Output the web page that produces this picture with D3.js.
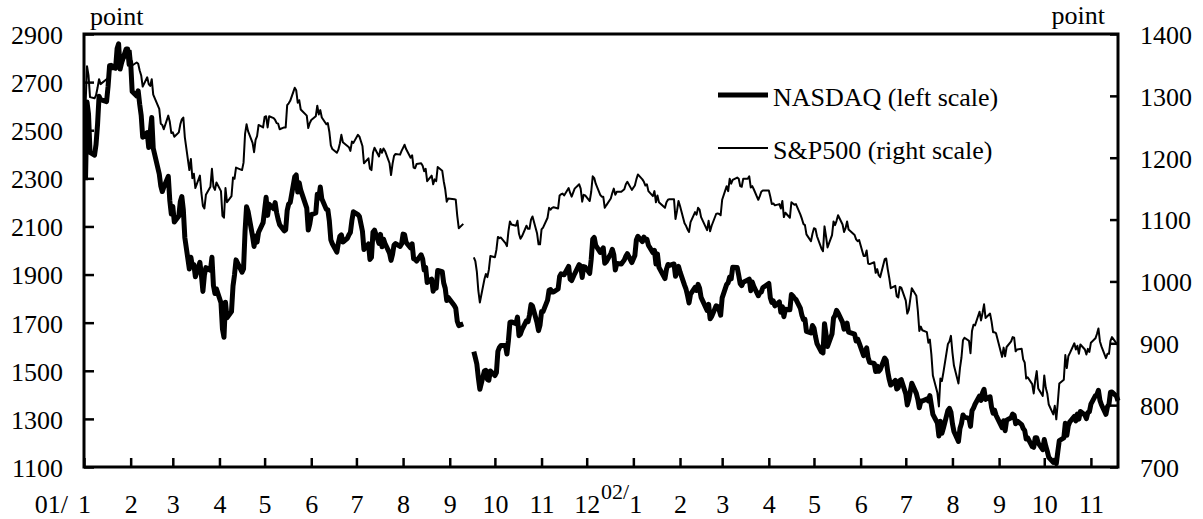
<!DOCTYPE html>
<html><head><meta charset="utf-8">
<script src="https://cdn.jsdelivr.net/npm/d3@7"></script>
<style>
body{margin:0;background:#fff}
svg{display:block}
text{font-family:"Liberation Serif","Times New Roman",Times,serif;font-size:26px;fill:#000}
</style>
</head><body>
<svg id="chart" width="1203" height="519"></svg>
<script>
// ---- trading days (per month) ----
const days2001 = [
  [2,3,4,5,8,9,10,11,12,16,17,18,19,22,23,24,25,26,29,30,31],
  [1,2,5,6,7,8,9,12,13,14,15,16,20,21,22,23,26,27,28],
  [1,2,5,6,7,8,9,12,13,14,15,16,19,20,21,22,23,26,27,28,29,30],
  [2,3,4,5,6,9,10,11,12,16,17,18,19,20,23,24,25,26,27,30],
  [1,2,3,4,7,8,9,10,11,14,15,16,17,18,21,22,23,24,25,29,30,31],
  [1,4,5,6,7,8,11,12,13,14,15,18,19,20,21,22,25,26,27,28,29],
  [2,3,5,6,9,10,11,12,13,16,17,18,19,20,23,24,25,26,27,30,31],
  [1,2,3,6,7,8,9,10,13,14,15,16,17,20,21,22,23,24,27,28,29,30,31],
  [4,5,6,7,10,11,12,13,14,17,18,19,20,21,24,25,26,27,28],
  [1,2,3,4,5,8,9,10,11,12,15,16,17,18,19,22,23,24,25,26,29,30,31],
  [1,2,5,6,7,8,9,12,13,14,15,16,19,20,21,23,26,27,28,29,30],
  [3,4,5,6,7,10,11,12,13,14,17,18,19,20,21,24,26,27,28,31]
];
const days2002 = [
  [2,3,4,7,8,9,10,11,14,15,16,17,18,22,23,24,25,28,29,30,31],
  [1,4,5,6,7,8,11,12,13,14,15,19,20,21,22,25,26,27,28],
  [1,4,5,6,7,8,11,12,13,14,15,18,19,20,21,22,25,26,27,28],
  [1,2,3,4,5,8,9,10,11,12,15,16,17,18,19,22,23,24,25,26,29,30],
  [1,2,3,6,7,8,9,10,13,14,15,16,17,20,21,22,23,24,28,29,30,31],
  [3,4,5,6,7,10,11,12,13,14,17,18,19,20,21,24,25,26,27,28],
  [1,2,3,5,8,9,10,11,12,15,16,17,18,19,22,23,24,25,26,29,30,31],
  [1,2,5,6,7,8,9,12,13,14,15,16,19,20,21,22,23,26,27,28,29,30],
  [3,4,5,6,9,10,11,12,13,16,17,18,19,20,23,24,25,26,27,30],
  [1,2,3,4,7,8,9,10,11,14,15,16,17,18,21,22,23,24,25,28,29,30,31],
  [1,4,5,6,7,8,11,12,13,14,15,18,19]
];

// ---- NASDAQ composite (left scale) ----
const nasdaq2001 = [
  2292,2617,2567,2408,2396,2441,2524,2641,2627,2619,2683,2768,2770,2758,2840,2859,2754,2781,2838,2838,2773,
  2783,2661,2643,2664,2608,2562,2471,2490,2428,2491,2553,2425,2318,2269,2245,2263,2308,2208,2152,
  2183,2118,2143,2204,2224,2169,2053,1923,1972,1934,1941,1891,1951,1898,1830,1898,1929,1918,1972,1854,1821,1840,
  1783,1673,1639,1785,1720,1746,1852,1899,1961,1910,1923,2079,2182,2163,2059,2017,2060,2035,2076,2116,
  2168,2221,2146,2192,2174,2199,2157,2129,2107,2082,2086,2166,2194,2199,2306,2314,2243,2282,2251,2176,2085,2110,
  2149,2156,2234,2218,2264,2215,2171,2170,2123,2044,2028,1993,2031,2059,2065,2035,2051,2065,2075,2125,2161,
  2149,2141,2080,2004,2027,1963,1972,2076,2085,2029,2067,2016,2047,2029,1989,1959,1984,2023,2029,2017,2027,
  2068,2066,2034,2011,2028,1966,1963,1956,1982,1965,1919,1930,1867,1881,1831,1860,1843,1917,1912,1865,1843,1792,1805,
  1771,1760,1706,1688,1695,null,null,null,null,1580,1555,1528,1471,1423,1499,1502,1464,1461,1499,
  1480,1492,1581,1597,1605,1605,1570,1626,1701,1703,1696,1723,1646,1653,1671,1708,1704,1732,1775,1769,1700,1667,1690,
  1746,1746,1794,1835,1838,1828,1828,1840,1892,1903,1901,1899,1934,1881,1875,1903,1941,1936,1888,1933,1931,
  1905,1964,2047,2054,2021,1992,2002,2011,1947,1953,1987,2005,1983,1919,1946,1944,1961,1976,1987,1950
];
const nasdaq2002 = [
  1979,2044,2059,2037,2056,2045,2047,2022,1991,2001,1944,1986,1930,1883,1922,1942,1938,1944,1893,1913,1934,
  1911,1856,1839,1813,1782,1819,1847,1834,1859,1843,1805,1751,1776,1716,1725,1770,1767,1752,1731,
  1803,1859,1866,1890,1882,1930,1929,1897,1862,1854,1868,1877,1881,1833,1869,1851,1812,1824,1827,1845,
  1863,1804,1784,1790,1770,1786,1743,1767,1725,1756,1754,1817,1811,1802,1797,1759,1730,1713,1714,1664,1657,1688,
  1678,1643,1613,1578,1574,1696,1652,1601,1653,1719,1730,1751,1741,1701,1673,1676,1698,1661,1652,1624,1632,1616,
  1563,1578,1595,1554,1535,1531,1497,1519,1498,1505,1553,1543,1497,1464,1441,1460,1424,1429,1459,1463,
  1404,1358,1380,1448,1406,1381,1346,1374,1374,1383,1375,1397,1357,1319,1283,1229,1290,1240,1262,1335,1344,1328,
  1280,1248,1206,1260,1281,1316,1307,1302,1269,1334,1345,1361,1395,1377,1409,1423,1381,1392,1348,1324,1336,1315,
  1264,1292,1251,1295,1305,1320,1315,1280,1291,1276,1260,1252,1216,1221,1185,1182,1222,1222,1199,1172,
  1214,1187,1166,1140,1119,1129,1114,1163,1210,1221,1282,1232,1272,1288,1310,1292,1320,1299,1331,1316,1301,1327,1330,
  1361,1397,1401,1419,1377,1359,1319,1350,1361,1411,1412,1394,1375
];

// ---- S&P 500 (right scale) ----
const sp2001 = [
  1283,1348,1333,1298,1296,1301,1313,1327,1319,1327,1329,1348,1343,1343,1360,1364,1358,1355,1364,1374,1366,
  1373,1349,1354,1352,1341,1333,1315,1330,1319,1316,1327,1302,1279,1255,1253,1246,1268,1258,1240,
  1241,1234,1241,1254,1262,1265,1233,1180,1198,1167,1174,1151,1171,1143,1122,1118,1140,1153,1182,1153,1148,1160,
  1146,1106,1103,1151,1128,1138,1168,1166,1184,1180,1192,1238,1254,1243,1224,1209,1229,1235,1253,1249,
  1266,1267,1249,1267,1264,1261,1256,1255,1246,1249,1249,1285,1288,1292,1313,1309,1289,1293,1278,1268,1248,1256,
  1261,1267,1284,1270,1277,1265,1254,1256,1242,1220,1214,1208,1213,1223,1237,1225,1219,1217,1211,1226,1224,
  1237,1234,1219,1191,1199,1182,1180,1208,1216,1202,1214,1208,1215,1211,1191,1172,1190,1203,1206,1205,1211,
  1216,1221,1214,1200,1204,1184,1183,1190,1191,1187,1178,1182,1162,1171,1157,1165,1162,1185,1179,1162,1149,1129,1134,
  1133,1132,1106,1086,1093,null,null,null,null,1039,1033,1016,985,966,1003,1012,1007,1019,1041,
  1039,1051,1072,1070,1071,1062,1057,1081,1097,1092,1090,1098,1077,1069,1073,1090,1085,1085,1100,1105,1078,1060,1060,
  1084,1087,1103,1119,1116,1119,1120,1118,1139,1141,1142,1139,1151,1143,1137,1150,1157,1150,1129,1140,1139,
  1130,1145,1170,1167,1158,1140,1137,1137,1119,1123,1134,1143,1150,1140,1145,1145,1149,1157,1161,1148
];
const sp2002 = [
  1155,1165,1173,1165,1161,1155,1157,1146,1138,1146,1128,1139,1128,1119,1128,1132,1133,1133,1101,1114,1130,
  1122,1094,1090,1084,1080,1096,1112,1108,1119,1116,1104,1083,1098,1081,1090,1109,1110,1109,1107,
  1132,1154,1146,1166,1158,1164,1168,1166,1154,1153,1166,1166,1170,1152,1154,1149,1132,1138,1145,1147,
  1147,1137,1125,1126,1123,1125,1118,1130,1104,1111,1103,1128,1126,1124,1125,1108,1101,1093,1091,1076,1065,1077,
  1086,1085,1073,1053,1049,1089,1073,1055,1075,1097,1091,1098,1107,1092,1080,1086,1097,1084,1075,1068,1065,1067,
  1041,1041,1050,1029,1028,1031,1014,1020,1010,1007,1036,1037,1020,1006,989,993,976,974,991,990,
  969,948,954,989,977,953,920,927,921,918,901,906,882,848,820,798,843,839,853,899,903,912,
  885,864,835,860,877,905,909,904,884,920,930,929,951,937,949,963,941,948,935,918,918,916,
  878,893,879,894,903,910,909,887,890,891,874,869,843,845,834,819,840,855,827,815,
  848,828,819,801,785,799,777,804,835,841,881,860,879,884,900,890,896,883,898,890,882,891,886,
  901,908,915,924,903,895,876,883,883,904,910,900,897
];

// ---- axes / labels ----
const leftTicks = [1100,1300,1500,1700,1900,2100,2300,2500,2700,2900];
const rightTicks = [700,800,900,1000,1100,1200,1300,1400];
const leftDomain = [1100, 2900];
const rightDomain = [700, 1400];
const xStart = "2001-01-01", xEnd = "2002-11-19";
const yearLabels = ["01/", "02/"];
const unitLabel = "point";
const seriesNames = ["NASDAQ (left scale)", "S&P500 (right scale)"];

function build(year, days, nq, sp, out) {
  let i = 0;
  days.forEach((m, mi) => m.forEach(d => {
    out.push({date: new Date(Date.UTC(year, mi, d)), nq: nq[i], sp: sp[i]});
    i++;
  }));
  return out;
}
const data = [];
build(2001, days2001, nasdaq2001, sp2001, data);
build(2002, days2002, nasdaq2002, sp2002, data);

const L = 84, R = 1118, T = 34, B = 467;
const svg = d3.select("#chart");

const x = d3.scaleUtc().domain([new Date(xStart), new Date(xEnd)]).range([L, R]);
const yL = d3.scaleLinear().domain(leftDomain).range([B, T]);
const yR = d3.scaleLinear().domain(rightDomain).range([B, T]);

// lines
const lineN = d3.line().defined(d => d.nq != null).x(d => x(d.date)).y(d => yL(d.nq));
const lineS = d3.line().defined(d => d.sp != null).x(d => x(d.date)).y(d => yR(d.sp));

svg.append("path").datum(data).attr("d", lineN)
  .attr("fill", "none").attr("stroke", "#000").attr("stroke-width", 5)
  .attr("stroke-linejoin", "round");
svg.append("path").datum(data).attr("d", lineS)
  .attr("fill", "none").attr("stroke", "#000").attr("stroke-width", 2)
  .attr("stroke-linejoin", "round");

// frame
svg.append("rect").attr("x", L).attr("y", T).attr("width", R - L).attr("height", B - T)
  .attr("fill", "none").attr("stroke", "#000").attr("stroke-width", 3);

// left axis
const gL = svg.append("g").attr("transform", `translate(${L},0)`)
  .call(d3.axisLeft(yL).tickValues(leftTicks).tickSize(-10).tickPadding(21).tickFormat(d3.format("d")));
// right axis
const gR = svg.append("g").attr("transform", `translate(${R},0)`)
  .call(d3.axisRight(yR).tickValues(rightTicks).tickSize(-8).tickPadding(22).tickFormat(d3.format("d")));
// bottom axis
const months = d3.utcMonth.range(new Date(xStart), new Date(xEnd));
const gB = svg.append("g").attr("transform", `translate(0,${B})`)
  .call(d3.axisBottom(x).tickValues(months).tickSize(-9).tickFormat(d => d.getUTCMonth() + 1));

[gL, gR, gB].forEach(g => {
  g.select(".domain").remove();
  g.selectAll(".tick line").attr("stroke", "#000").attr("stroke-width", 2.5);
  g.selectAll("text").attr("font-size", null).attr("font-family", null).attr("fill", "#000");
});
gL.selectAll("text").attr("dy", "0.36em");
gR.selectAll("text").attr("dy", "0.36em");
gB.selectAll("text").attr("y", 46).attr("dy", 0);

// year labels
svg.append("text").attr("x", 68).attr("y", 513).attr("text-anchor", "end").text(yearLabels[0]);
// Jan 2002 label: raised "02/" followed by the month number, in one text element
gB.selectAll(".tick").filter(d => d.getUTCFullYear() === 2002 && d.getUTCMonth() === 0)
  .select("text").each(function(d) {
    const t = d3.select(this).text("").attr("text-anchor", "start").attr("x", 600.5 - x(d));
    t.append("tspan").attr("dy", -14).attr("font-size", 22).text(yearLabels[1]);
    t.append("tspan").attr("dy", 14).text(d.getUTCMonth() + 1);
  });

// unit labels
svg.append("text").attr("x", 90).attr("y", 25).text(unitLabel);
svg.append("text").attr("x", 1105).attr("y", 24).attr("text-anchor", "end").text(unitLabel);

// legend
const lg = [{y: 95, w: 5, t: seriesNames[0]}, {y: 148, w: 2, t: seriesNames[1]}];
lg.forEach(e => {
  svg.append("line").attr("x1", 718).attr("x2", 768).attr("y1", e.y).attr("y2", e.y)
    .attr("stroke", "#000").attr("stroke-width", e.w);
  svg.append("text").attr("x", 773).attr("y", e.y + 11).text(e.t);
});
</script>
</body></html>
